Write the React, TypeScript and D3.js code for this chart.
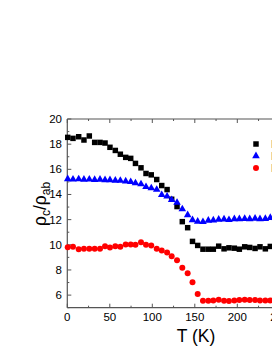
import React from "react";
import * as d3 from "d3";

const temps = [0.5, 6.7, 13.4, 19.6, 25.9, 32.2, 38.5, 44.4, 50.2, 56.5, 62.4, 68.7, 74.6, 80.2, 86.7, 92.6, 98.8, 105.2, 111.1, 117.4, 122.8, 129.1, 135.3, 141.6, 147.3, 153.4, 159.6, 165.9, 171.8, 178.1, 184.4, 190.2, 196.5, 202.4, 208.7, 214.6, 220.9, 226.7, 233.0, 238.8, 245.0];

const seriesA = [18.54, 18.46, 18.59, 18.33, 18.65, 18.14, 18.14, 18.09, 17.75, 17.5, 17.2, 16.95, 16.87, 16.47, 16.12, 15.67, 15.56, 15.19, 14.71, 14.39, 13.62, 13.04, 11.84, 11.36, 10.27, 9.95, 9.65, 9.65, 9.65, 9.89, 9.68, 9.76, 9.73, 9.65, 9.84, 9.79, 9.71, 9.84, 9.68, 9.87, 9.78];

const seriesB = [15.28, 15.25, 15.27, 15.24, 15.25, 15.22, 15.24, 15.2, 15.2, 15.16, 15.15, 15.1, 15.05, 14.95, 14.87, 14.66, 14.56, 14.44, 14.02, 13.9, 13.62, 13.4, 12.88, 12.42, 12.02, 11.9, 11.87, 11.98, 12.0, 12.06, 12.08, 12.03, 12.1, 12.1, 12.12, 12.1, 12.14, 12.1, 12.12, 12.2, 12.18];

const seriesC = [9.81, 9.84, 9.65, 9.68, 9.68, 9.68, 9.68, 9.89, 9.79, 9.89, 9.84, 10.03, 10.03, 10.0, 10.2, 10.0, 9.95, 9.68, 9.55, 9.39, 9.09, 8.77, 8.17, 7.74, 7.02, 6.09, 5.56, 5.56, 5.58, 5.64, 5.56, 5.53, 5.58, 5.61, 5.64, 5.61, 5.61, 5.58, 5.58, 5.58, 5.6];

const legendLabels = ["H || c", "H || ab", "H = 0"];
const xTicks = [0, 50, 100, 150, 200, 250, 300];
const xMinor = [25, 75, 125, 175, 225, 275];
const yTicks = [6, 8, 10, 12, 14, 16, 18, 20];
const yMinor = [5, 7, 9, 11, 13, 15, 17, 19];

const W = 272;
const H = 352;
const left = 67.3;
const top = 119;
const bottom = 307.7;

export default function App() {
  const x = d3.scaleLinear().domain([0, 300]).range([left, left + 300 * 0.85]);
  const y = d3.scaleLinear().domain([5, 20]).range([bottom, top]);
  const right = x(300);
  const axisColor = "#555";
  const font = "Liberation Sans, Arial, sans-serif";
  const sym = (t: d3.SymbolType, size: number) => d3.symbol().type(t).size(size)() as string;
  const sq = sym(d3.symbolSquare, 30);
  const tri = sym(d3.symbolTriangle, 25);
  const circ = sym(d3.symbolCircle, 28);

  return (
    <svg width={W} height={H} style={{ position: "absolute", left: 0, top: 0 }}>
      <rect x={0} y={0} width={W} height={H} fill="#fff" />
      {/* frame */}
      <line x1={left} x2={left} y1={top} y2={bottom} stroke={axisColor} strokeWidth={1.2} />
      <line x1={left} x2={right} y1={bottom} y2={bottom} stroke={axisColor} strokeWidth={1.2} />
      <line x1={left} x2={right} y1={top} y2={top} stroke={axisColor} strokeWidth={1.2} />
      {/* x ticks */}
      {xTicks.map((t) => (
        <g key={"xt" + t}>
          <line x1={x(t)} x2={x(t)} y1={bottom} y2={bottom - 4} stroke={axisColor} strokeWidth={1} />
          <line x1={x(t)} x2={x(t)} y1={top} y2={top + 4} stroke={axisColor} strokeWidth={1} />
          <text x={x(t)} y={321} fontSize={11.5} fontFamily={font} textAnchor="middle" fill="#000">
            {t}
          </text>
        </g>
      ))}
      {xMinor.map((t) => (
        <g key={"xm" + t}>
          <line x1={x(t)} x2={x(t)} y1={bottom} y2={bottom - 2} stroke={axisColor} strokeWidth={1} />
          <line x1={x(t)} x2={x(t)} y1={top} y2={top + 2} stroke={axisColor} strokeWidth={1} />
        </g>
      ))}
      {/* y ticks */}
      {yTicks.map((t) => (
        <g key={"yt" + t}>
          <line x1={left} x2={left + 4} y1={y(t)} y2={y(t)} stroke={axisColor} strokeWidth={1} />
          <text x={62} y={y(t) + 4} fontSize={11.5} fontFamily={font} textAnchor="end" fill="#000">
            {t}
          </text>
        </g>
      ))}
      {yMinor.map((t) => (
        <line key={"ym" + t} x1={left} x2={left + 2} y1={y(t)} y2={y(t)} stroke={axisColor} strokeWidth={1} />
      ))}
      {/* data */}
      {temps.map((t, i) => (
        <path key={"a" + i} d={sq} transform={`translate(${x(t)},${y(seriesA[i])})`} fill="#000" />
      ))}
      {temps.map((t, i) => (
        <path key={"b" + i} d={tri} transform={`translate(${x(t)},${y(seriesB[i]) + 0.6})`} fill="#0000ff" />
      ))}
      {temps.map((t, i) => (
        <path key={"c" + i} d={circ} transform={`translate(${x(t)},${y(seriesC[i])})`} fill="#ff0000" />
      ))}
      {/* legend */}
      {[sq, tri, circ].map((p, i) => (
        <g key={"lg" + i}>
          <path d={p} transform={`translate(256,${144 + i * 12})`} fill={["#000", "#0000ff", "#ff0000"][i]} />
          <text x={271} y={147.5 + i * 12} fontSize={10} fontFamily={font} fill="#444">
            {legendLabels[i]}
          </text>
        </g>
      ))}
      {/* axis titles */}
      <text x={196} y={342} fontSize={17.5} fontFamily={font} textAnchor="middle" fill="#000">
        T (K)
      </text>
      <text
        transform={`translate(46,204) rotate(-90)`}
        fontSize={17.5}
        fontFamily={font}
        textAnchor="middle"
        fill="#000"
      >
        ρ<tspan fontSize={12} dy={4}>c</tspan>
        <tspan dy={-4}>/ρ</tspan>
        <tspan fontSize={12} dy={4}>ab</tspan>
      </text>
    </svg>
  );
}
